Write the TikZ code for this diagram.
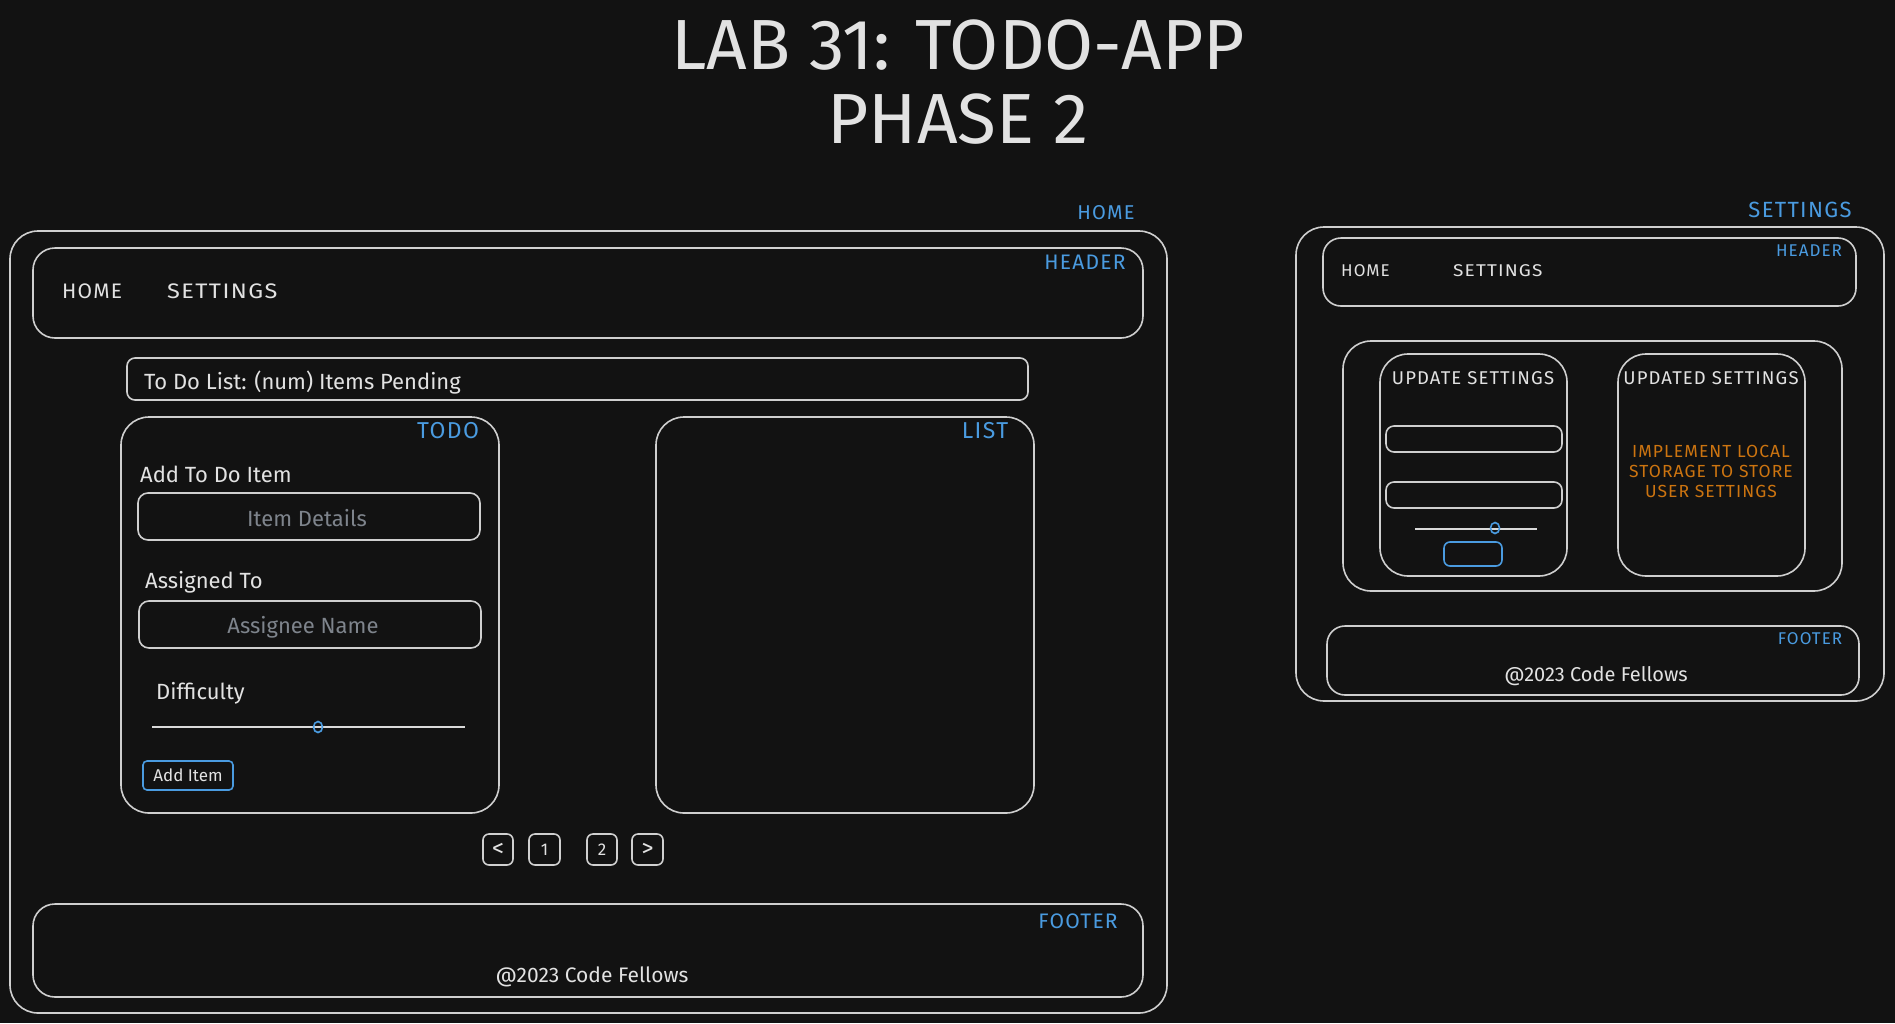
\documentclass[tikz,border=0pt]{standalone}
\usepackage{fontspec}
\setmainfont{Fira Sans}
\usetikzlibrary{fit,shapes.geometric}

\definecolor{canvas}{HTML}{121212}
\definecolor{ink}{HTML}{CFCFCF}
\definecolor{inktext}{HTML}{E2E2E2}
\definecolor{accent}{HTML}{4A9BE0}
\definecolor{warn}{HTML}{CC7410}
\definecolor{hint}{HTML}{7E848C}

% spaced capitals for the hand-lettered labels
\newcommand\caps[1]{{\addfontfeatures{LetterSpace=6}#1}}

\tikzset{
  frame/.style={draw=ink, line width=1.6pt, inner sep=0pt, outer sep=0pt, rounded corners=#1},
  frame/.default=24pt,
  bluebox/.style={draw=accent, line width=1.6pt, inner sep=0pt, outer sep=0pt, rounded corners=#1},
  bluebox/.default=4pt,
  txt/.style={text=inktext, inner sep=0pt, font=\fontsize{#1}{#1}\selectfont},
  tag/.style={text=accent, inner sep=0pt, font=\fontsize{#1}{#1}\selectfont},
  ghost/.style={text=hint, inner sep=0pt, font=\fontsize{#1}{#1}\selectfont},
  track/.style={draw=ink!80, line width=1.6pt},
  knob/.style={draw=accent, line width=1.6pt, ellipse, minimum width=9pt, minimum height=11pt, inner sep=0pt},
}

\begin{document}
\begin{tikzpicture}[x=1pt,y=-1pt]
\fill[canvas] (0,0) rectangle (1895,1023);
\useasboundingbox (0,0) rectangle (1895,1023);

% ---------- title ----------
\node[txt=71] (title1) at (958,45.5) {LAB 31: TODO-APP};
\node[txt=71] (title2) at (958,119) {PHASE 2};

% ---------- home page ----------
\node[tag=20] (homelbl) at (1106,213) {\caps{HOME}};
\node[frame=28pt, fit={(10,231) (1167,1013)}] (homepage) {};

\node[frame=22pt, fit={(33,248) (1143,338)}] (hdr) {};
\node[tag=21] (hdrlbl) at (1085,262) {\caps{HEADER}};
\node[txt=21, anchor=west] (navhome) at (62,291) {\caps{HOME}};
\node[txt=21, anchor=west] (navset) at (167,291) {\scalebox{1.12}[1]{\caps{SETTINGS}}};

\node[frame=8pt, fit={(127,358) (1028,400)}] (countbar) {};
\node[txt=22, anchor=mid west] (counttxt) at (144,386.5) {To Do List: (num) Items Pending};

% todo form
\node[frame=28pt, fit={(121,417) (499,813)}] (todo) {};
\node[tag=23] (todolbl) at (448,431) {\caps{TODO}};
\node[txt=22, anchor=mid west] (addlbl) at (140,479.5) {Add To Do Item};
\node[frame=10pt, fit={(138,493) (480,540)}] (itembox) {};
\node[ghost=22, anchor=mid] (itemtxt) at (307,524) {Item Details};
\node[txt=22, anchor=mid west] (asglbl) at (145,585.5) {Assigned To};
\node[frame=10pt, fit={(139,601) (481,648)}] (asgbox) {};
\node[ghost=22, anchor=mid] (asgtxt) at (303,631) {Assignee Name};
\node[txt=22, anchor=mid west] (difflbl) at (156,696.5) {Difficulty};
\coordinate (diffa) at (152,727);
\coordinate (diffb) at (465,727);
\draw[track] (diffa) -- (diffb);
\node[knob] (diffknob) at (318,727) {};
\node[bluebox=4pt, fit={(143,761) (233,790)}] (addbtn) {};
\node[txt=17] (addbtntxt) at (addbtn.center) {Add Item};

% list
\node[frame=28pt, fit={(656,417) (1034,813)}] (list) {};
\node[tag=23] (listlbl) at (985,431) {\caps{LIST}};

% pagination
\node[frame=6pt, fit={(483,834) (513,865)}] (pgprev) {};
\node[frame=6pt, fit={(529,834) (560,865)}] (pgone) {};
\node[frame=6pt, fit={(587,834) (617,865)}] (pgtwo) {};
\node[frame=6pt, fit={(632,834) (663,865)}] (pgnext) {};
\node[txt=24] at (pgprev.center) {<};
\node[txt=17] at (pgone.center) {1};
\node[txt=17] at (pgtwo.center) {2};
\node[txt=24] at (pgnext.center) {>};

% footer
\node[frame=22pt, fit={(33,904) (1143,997)}] (ftr) {};
\node[tag=21] (ftrlbl) at (1078,921) {\caps{FOOTER}};
\node[txt=21, anchor=mid] (ftrtxt) at (592,979.5) {@2023 Code Fellows};

% ---------- settings page ----------
\node[tag=22] (setlbl) at (1800,210) {\caps{SETTINGS}};
\node[frame=28pt, fit={(1296,227) (1884,701)}] (setpage) {};

\node[frame=18pt, fit={(1323,238) (1856,306)}] (shdr) {};
\node[tag=17] (shdrlbl) at (1809,251) {\caps{HEADER}};
\node[txt=17, anchor=west] (snavhome) at (1341,271) {\caps{HOME}};
\node[txt=17, anchor=west] (snavset) at (1453,271) {\scalebox{1.12}[1]{\caps{SETTINGS}}};

\node[frame=28pt, fit={(1343,341) (1842,591)}] (spanel) {};

\node[frame=28pt, fit={(1380,354) (1567,576)}] (upd) {};
\node[txt=18.5] (updlbl) at (1473,378) {\caps{UPDATE SETTINGS}};
\node[frame=8pt, fit={(1386,426) (1562,452)}] (updin1) {};
\node[frame=8pt, fit={(1386,482) (1562,508)}] (updin2) {};
\coordinate (sla) at (1415,529);
\coordinate (slb) at (1537,529);
\draw[track] (sla) -- (slb);
\node[knob] (slknob) at (1495,528) {};
\node[bluebox=6pt, fit={(1444,542) (1502,566)}] (updbtn) {};

\node[frame=28pt, fit={(1618,354) (1805,576)}] (cur) {};
\node[txt=18.5] (curlbl) at (1711,378) {\caps{UPDATED SETTINGS}};
\node[text=warn, inner sep=0pt, align=center, font=\fontsize{17.5}{20}\selectfont] (note) at (1711,471)
  {\caps{IMPLEMENT LOCAL}\\\caps{STORAGE TO STORE}\\\caps{USER SETTINGS}};

\node[frame=18pt, fit={(1327,626) (1859,695)}] (sftr) {};
\node[tag=17] (sftrlbl) at (1810,639) {\caps{FOOTER}};
\node[txt=20, anchor=mid] (sftrtxt) at (1596,679) {@2023 Code Fellows};

\end{tikzpicture}
\end{document}
